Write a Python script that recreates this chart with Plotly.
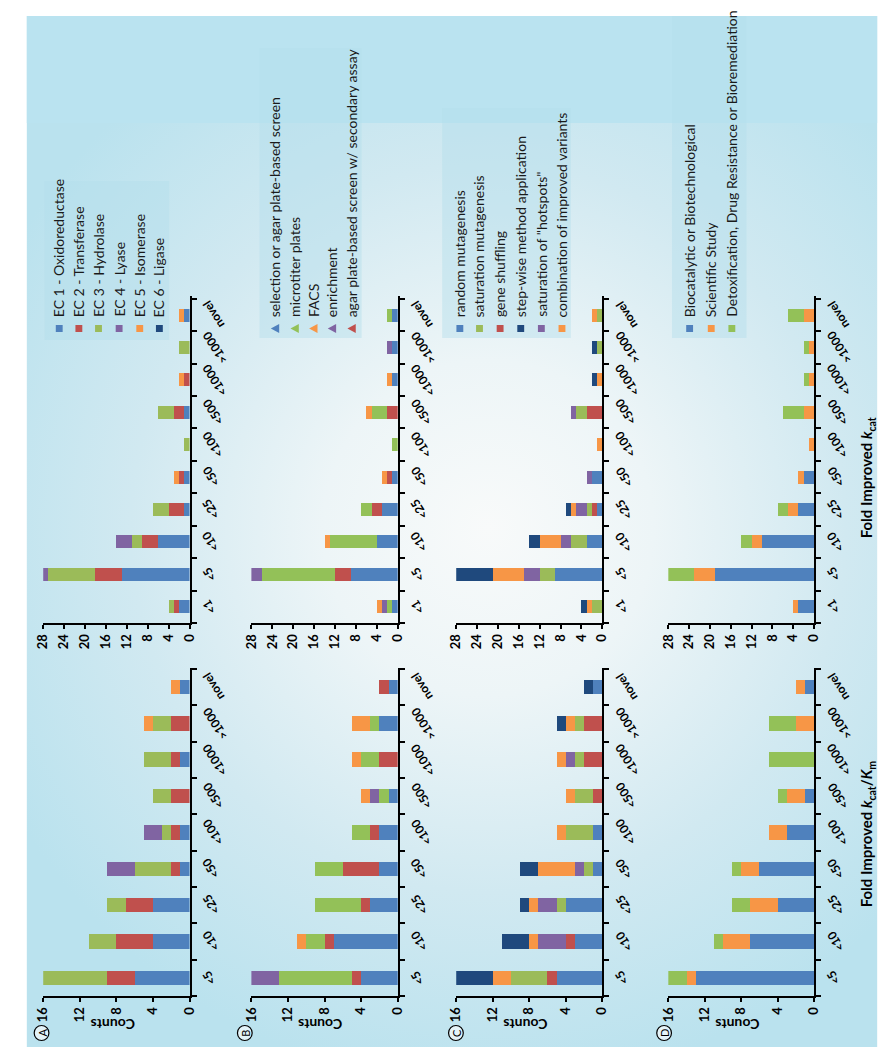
import base64
import plotly.graph_objects as go

W, H = 886, 1050

# ---------------- data ----------------
cats_kcat = ['<1', '<5', '<10', '<25', '<50', '<100', '<500', '<1000', '>1000', 'novel']
cats_kcatkm = ['<5', '<10', '<25', '<50', '<100', '<500', '<1000', '>1000', 'novel']

# Panel A - EC class
a_names = ['EC 1 - Oxidoreductase', 'EC 2 - Transferase', 'EC 3 - Hydrolase',
           'EC 4 - Lyase', 'EC 5 - Isomerase', 'EC 6 - Ligase']
a_kcat_ec1 = [2, 13, 6, 1, 1, 0, 1, 0, 0, 1]
a_kcat_ec2 = [1, 5, 3, 3, 1, 0, 2, 1, 0, 0]
a_kcat_ec3 = [1, 9, 2, 3, 0, 1, 3, 0, 2, 0]
a_kcat_ec4 = [0, 1, 3, 0, 0, 0, 0, 0, 0, 0]
a_kcat_ec5 = [0, 0, 0, 0, 1, 0, 0, 1, 0, 1]
a_kcat_ec6 = [0, 0, 0, 0, 0, 0, 0, 0, 0, 0]
a_km_ec1 = [6, 4, 4, 1, 1, 0, 1, 0, 1]
a_km_ec2 = [3, 4, 3, 1, 1, 2, 1, 2, 0]
a_km_ec3 = [7, 3, 2, 4, 1, 2, 3, 2, 0]
a_km_ec4 = [0, 0, 0, 3, 2, 0, 0, 0, 0]
a_km_ec5 = [0, 0, 0, 0, 0, 0, 0, 1, 1]
a_km_ec6 = [0, 0, 0, 0, 0, 0, 0, 0, 0]

# Panel B - screening method
b_names = ['selection or agar plate-based screen', 'microtiter plates', 'FACS',
           'enrichment', 'agar plate-based screen w/ secondary assay']
b_kcat_sel = [1, 9, 4, 3, 1, 0, 0, 1, 1, 1]
b_kcat_agar2 = [0, 3, 0, 2, 1, 0, 2, 0, 0, 0]
b_kcat_micro = [1, 14, 9, 2, 0, 1, 3, 0, 0, 1]
b_kcat_enr = [1, 2, 0, 0, 0, 0, 0, 0, 1, 0]
b_kcat_facs = [1, 0, 1, 0, 1, 0, 1, 1, 0, 0]
b_km_sel = [4, 7, 3, 2, 2, 1, 0, 2, 1]
b_km_agar2 = [1, 1, 1, 4, 1, 0, 2, 0, 1]
b_km_micro = [8, 2, 5, 3, 2, 1, 2, 1, 0]
b_km_enr = [3, 0, 0, 0, 0, 1, 0, 0, 0]
b_km_facs = [0, 1, 0, 0, 0, 1, 1, 2, 0]

# Panel C - mutagenesis strategy
c_names = ['random mutagenesis', 'saturation mutagenesis', 'gene shuffling',
           'step-wise method application', 'saturation of "hotspots"',
           'combination of improved variants']
c_kcat_rand = [0, 9, 3, 1, 2, 0, 0, 0, 0, 0]
c_kcat_shuf = [0, 0, 0, 1, 0, 0, 3, 0, 0, 0]
c_kcat_sat = [2, 3, 3, 1, 0, 0, 2, 0, 1, 1]
c_kcat_hot = [0, 3, 2, 2, 1, 0, 1, 0, 0, 0]
c_kcat_comb = [1, 6, 4, 1, 0, 1, 0, 1, 0, 1]
c_kcat_step = [1, 7, 2, 1, 0, 0, 0, 1, 1, 0]
c_km_rand = [5, 3, 4, 1, 1, 0, 0, 0, 1]
c_km_shuf = [1, 1, 0, 0, 0, 1, 2, 2, 0]
c_km_sat = [4, 0, 1, 1, 3, 2, 1, 1, 0]
c_km_hot = [0, 3, 2, 1, 0, 0, 1, 0, 0]
c_km_comb = [2, 1, 1, 4, 1, 1, 1, 1, 0]
c_km_step = [4, 3, 1, 2, 0, 0, 0, 1, 1]

# Panel D - purpose
d_names = ['Biocatalytic or Biotechnological', 'Scientific Study',
           'Detoxification, Drug Resistance or Bioremediation']
d_kcat_bio = [3, 19, 10, 3, 2, 0, 0, 0, 0, 0]
d_kcat_sci = [1, 4, 2, 2, 1, 1, 2, 1, 1, 2]
d_kcat_det = [0, 5, 2, 2, 0, 0, 4, 1, 1, 3]
d_km_bio = [13, 7, 4, 6, 3, 1, 0, 0, 1]
d_km_sci = [1, 3, 3, 2, 2, 2, 0, 2, 1]
d_km_det = [2, 1, 2, 1, 0, 1, 5, 3, 0]

count_ticks_kcat = [0, 4, 8, 12, 16, 20, 24, 28]
count_ticks_km = [0, 4, 8, 12, 16]

# ---------------- style ----------------
BLUE, RED, GREEN, PURPLE, ORANGE, NAVY = '#4F81BD', '#C0504D', '#9BBB59', '#8064A2', '#F79646', '#1F497D'
LGREEN = '#93C158'
FONT = 'Lato'


def px(x):
    return x / W


def py(y):
    return 1 - y / H


TOP = (288, 615)
BOT = (660, 988)

panels = [
    dict(letter='A', l=26.7, r=175.7,
         stack=[(a_kcat_ec1, a_km_ec1, BLUE), (a_kcat_ec2, a_km_ec2, RED), (a_kcat_ec3, a_km_ec3, GREEN),
                (a_kcat_ec4, a_km_ec4, PURPLE), (a_kcat_ec5, a_km_ec5, ORANGE), (a_kcat_ec6, a_km_ec6, NAVY)],
         legend=[(a_names[i], c) for i, c in enumerate([BLUE, RED, GREEN, PURPLE, ORANGE, NAVY])],
         leg_x=[43, 63, 83, 104, 125, 145], box=(28, 173, 155, 332), marker='square', circ=25),
    dict(letter='B', l=238.7, r=387.7,
         stack=[(b_kcat_sel, b_km_sel, BLUE), (b_kcat_agar2, b_km_agar2, RED), (b_kcat_micro, b_km_micro, LGREEN),
                (b_kcat_enr, b_km_enr, PURPLE), (b_kcat_facs, b_km_facs, ORANGE)],
         legend=[(b_names[0], BLUE), (b_names[1], LGREEN), (b_names[2], ORANGE), (b_names[3], PURPLE),
                 (b_names[4], RED)],
         leg_x=[263, 283, 302, 321, 341], box=(247, 40, 351, 330), marker='triangle', circ=232),
    dict(letter='C', l=447.3, r=596,
         stack=[(c_kcat_rand, c_km_rand, BLUE), (c_kcat_shuf, c_km_shuf, RED), (c_kcat_sat, c_km_sat, GREEN),
                (c_kcat_hot, c_km_hot, PURPLE), (c_kcat_comb, c_km_comb, ORANGE), (c_kcat_step, c_km_step, NAVY)],
         legend=[(c_names[0], BLUE), (c_names[1], GREEN), (c_names[2], RED), (c_names[3], NAVY),
                 (c_names[4], PURPLE), (c_names[5], ORANGE)],
         leg_x=[451, 471, 492, 513, 534, 555], box=(433, 100, 564, 330), marker='square', circ=447),
    dict(letter='D', l=663.3, r=811.7,
         stack=[(d_kcat_bio, d_km_bio, BLUE), (d_kcat_sci, d_km_sci, ORANGE), (d_kcat_det, d_km_det, LGREEN)],
         legend=[(d_names[0], BLUE), (d_names[1], ORANGE), (d_names[2], LGREEN)],
         leg_x=[685, 707, 728], box=(667, 8, 743, 330), marker='square', circ=659),
]

fig = go.Figure()
layout = dict(
    width=W, height=H, autosize=False,
    margin=dict(l=0, r=0, t=0, b=0, pad=0),
    paper_bgcolor='white', plot_bgcolor='rgba(0,0,0,0)',
    barmode='stack', bargap=0.6, showlegend=False,
    font=dict(family=FONT, color='black'),
)
annotations = []
shapes = []

for i, p in enumerate(panels):
    for j, (cats, ymax, ticks, (y0, y1)) in enumerate([
            (cats_kcat, 28, count_ticks_kcat, TOP),
            (cats_kcatkm, 16, count_ticks_km, BOT)]):
        n = 2 * i + j + 1
        xa, ya = f'x{n}', f'y{n}'
        for vals_top, vals_bot, color in p['stack']:
            vals = vals_top if j == 0 else vals_bot
            fig.add_trace(go.Bar(orientation='h', x=vals, y=cats, marker=dict(color=color, line=dict(width=0)),
                                 xaxis=xa, yaxis=ya, hoverinfo='x+y'))
        layout[f'xaxis{n}'] = dict(
            domain=[px(p['l']), px(p['r'])], anchor=ya, range=[ymax, 0], tickvals=ticks,
            ticks='outside', ticklen=4, tickwidth=1.5, tickcolor='black', showline=True,
            linecolor='black', linewidth=2, tickangle=-90, showgrid=False, zeroline=False,
            tickfont=dict(family=FONT, size=13, color='black', weight='bold'), fixedrange=True)
        layout[f'yaxis{n}'] = dict(
            domain=[py(y1), py(y0)], anchor=xa, side='right', type='category',
            categoryorder='array', categoryarray=cats, showline=True, linecolor='black', linewidth=2,
            ticks='outside', tickson='boundaries', ticklen=5, tickwidth=1.5, tickcolor='black',
            showticklabels=False, showgrid=False, zeroline=False, fixedrange=True)
        for c in cats:
            annotations.append(dict(
                text=f'<b>{c}</b>', xref='paper', yref=ya, x=px(p['r'] + 7), y=c,
                xanchor='left', yanchor='middle', textangle=-122, showarrow=False,
                font=dict(family=FONT, size=12, color='black')))
    # Counts label (bottom subplot)
    annotations.append(dict(text='<b>Counts</b>', xref='paper', yref='paper',
                            x=px((p['l'] + p['r']) / 2 - 4), y=py(1017), textangle=180,
                            xanchor='center', yanchor='middle',
                            showarrow=False, font=dict(family=FONT, size=14, color='black')))
    # panel letter
    cx, cy, rr = p['circ'], 1025, 7.5
    shapes.append(dict(type='circle', xref='paper', yref='paper', x0=px(cx - rr), x1=px(cx + rr),
                       y0=py(cy + rr), y1=py(cy - rr), line=dict(color='black', width=1.2),
                       fillcolor='rgba(255,255,255,0.6)'))
    annotations.append(dict(text=p['letter'], xref='paper', yref='paper', x=px(cx), y=py(cy),
                            xanchor='center', yanchor='middle',
                            textangle=-90, showarrow=False, font=dict(family=FONT, size=11, color='black')))
    # legend box
    bx0, by0, bx1, by1 = p['box']
    shapes.append(dict(type='rect', xref='paper', yref='paper', x0=px(bx0), x1=px(bx1), y0=py(by1),
                       y1=py(by0), line=dict(width=0), fillcolor='rgba(180,222,236,0.45)', layer='below'))
    for (name, color), lx in zip(p['legend'], p['leg_x']):
        annotations.append(dict(text=name, xref='paper', yref='paper', x=px(lx), y=py(311),
                                xanchor='center', yanchor='bottom', textangle=-90, showarrow=False,
                                font=dict(family=FONT, size=14, color='#1a1a1a')))
        my = 320.5
        if p['marker'] == 'square':
            shapes.append(dict(type='rect', xref='paper', yref='paper', x0=px(lx - 3.5), x1=px(lx + 3.5),
                               y0=py(my + 3.5), y1=py(my - 3.5), line=dict(width=0), fillcolor=color))
        else:
            path = (f'M {px(lx - 4.5)} {py(my)} L {px(lx + 4)} {py(my - 4.5)} '
                    f'L {px(lx + 4)} {py(my + 4.5)} Z')
            shapes.append(dict(type='path', xref='paper', yref='paper', path=path,
                               line=dict(width=0), fillcolor=color))

# axis titles
annotations.append(dict(text='<b>Fold Improved <i>k</i><sub>cat</sub>/<i>K</i><sub>m</sub></b>',
                        xref='paper', yref='paper', x=px(866), y=py(826), textangle=-90,
                        xanchor='center', yanchor='middle',
                        showarrow=False, font=dict(family=FONT, size=15, color='black')))
annotations.append(dict(text='<b>Fold Improved <i>k</i><sub>cat</sub></b>',
                        xref='paper', yref='paper', x=px(866), y=py(470), textangle=-90,
                        xanchor='center', yanchor='middle',
                        showarrow=False, font=dict(family=FONT, size=15, color='black')))

svg = '''<svg xmlns="http://www.w3.org/2000/svg" width="886" height="1050" viewBox="0 0 886 1050">
<defs><radialGradient id="g" gradientUnits="userSpaceOnUse" cx="480" cy="520" r="560">
<stop offset="0" stop-color="#F8FAFA"/><stop offset="0.3" stop-color="#EDF5F7"/>
<stop offset="0.65" stop-color="#D1E9F1"/><stop offset="1" stop-color="#BAE2EE"/></radialGradient></defs>
<rect x="10" y="8" width="866" height="1031" fill="url(#g)"/>
<rect x="10" y="8" width="866" height="107" fill="#BAE3F0"/>
</svg>'''
src = 'data:image/svg+xml;base64,' + base64.b64encode(svg.encode()).decode()
layout['images'] = [dict(source=src, xref='paper', yref='paper', x=0, y=1, sizex=1, sizey=1,
                         sizing='stretch', xanchor='left', yanchor='top', layer='below')]
layout['annotations'] = annotations
layout['shapes'] = shapes
fig.update_layout(**layout)
fig.write_html('out.html', config=dict(displayModeBar=False))
